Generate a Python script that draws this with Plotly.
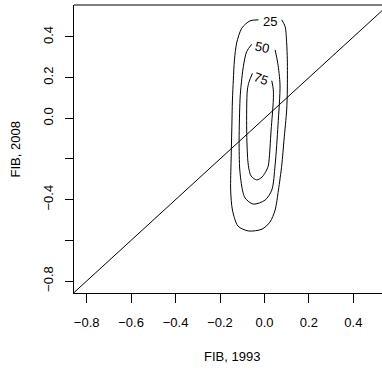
import plotly.graph_objects as go

# Density contour paths (FIB 1993 vs FIB 2008), each open where its label sits
c25_x = [0.078, 0.093, 0.100, 0.103, 0.103, 0.100, 0.088, 0.078, 0.063, 0.048, 0.025, -0.011,
         -0.072, -0.119, -0.144, -0.152, -0.150, -0.147, -0.144, -0.140, -0.135, -0.125,
         -0.102, -0.065, -0.027]
c25_y = [0.484, 0.451, 0.370, 0.287, 0.139, 0.041, -0.107, -0.230, -0.353, -0.451, -0.510, -0.545,
         -0.554, -0.530, -0.451, -0.353, -0.205, -0.058, 0.090, 0.188, 0.287, 0.370,
         0.443, 0.479, 0.484]

c50_x = [0.048, 0.060, 0.070, 0.061, 0.048, 0.033, 0.003, -0.050, -0.087, -0.099, -0.111,
         -0.114, -0.110, -0.107, -0.095, -0.080, -0.057]
c50_y = [0.336, 0.271, 0.164, -0.033, -0.230, -0.353, -0.402, -0.422, -0.392, -0.353, -0.254,
         -0.107, 0.090, 0.139, 0.254, 0.328, 0.364]

c75_x = [0.033, 0.040, 0.040, 0.030, 0.018, 0.010, -0.011, -0.035, -0.060, -0.069, -0.075,
         -0.080, -0.077, -0.069, -0.054]
c75_y = [0.185, 0.139, 0.090, -0.058, -0.230, -0.254, -0.289, -0.303, -0.284, -0.254, -0.205,
         -0.058, 0.139, 0.180, 0.221]

contour_levels = ["25", "50", "75"]
label_x = [0.025, -0.009, -0.017]
label_y = [0.475, 0.349, 0.197]
label_angle = [0, 12, 20]

x_ticks = [-0.8, -0.6, -0.4, -0.2, 0.0, 0.2, 0.4]
y_ticks = [-0.8, -0.6, -0.4, -0.2, 0.0, 0.2, 0.4]
y_ticktext = ["\u22120.8", "", "\u22120.4", "", "0.0", "0.2", "0.4"]

x_range = [-0.857, 0.529]
y_range = [-0.859, 0.557]

FONT = "Liberation Sans, Arial, Helvetica, sans-serif"

fig = go.Figure()

# y = x reference line
fig.add_trace(go.Scatter(x=[-1.0, 1.0], y=[-1.0, 1.0], mode="lines",
                         line=dict(color="black", width=1), hoverinfo="skip"))

for cx, cy in [(c25_x, c25_y), (c50_x, c50_y), (c75_x, c75_y)]:
    fig.add_trace(go.Scatter(x=cx, y=cy, mode="lines",
                             line=dict(color="black", width=1, shape="spline", smoothing=0.8),
                             hoverinfo="skip"))

for lvl, lx, ly, ang in zip(contour_levels, label_x, label_y, label_angle):
    fig.add_annotation(x=lx, y=ly, text=lvl, showarrow=False, textangle=ang,
                       font=dict(family=FONT, size=13, color="black"))

# axis titles
fig.add_annotation(xref="paper", yref="paper", x=0.513, y=-0.222, text="FIB, 1993",
                   showarrow=False, yanchor="middle",
                   font=dict(family=FONT, size=13, color="black"))
fig.add_annotation(xref="paper", yref="paper", x=-0.19, y=0.5, text="FIB, 2008",
                   showarrow=False, textangle=-90, xanchor="center",
                   font=dict(family=FONT, size=13, color="black"))

# top edge of the plotting box
fig.add_shape(type="line", xref="paper", yref="paper", x0=0, x1=1, y0=1, y1=1,
              line=dict(color="black", width=1))

fig.update_layout(
    width=382, height=371,
    margin=dict(l=74, r=0, t=5, b=78),
    paper_bgcolor="white", plot_bgcolor="white",
    showlegend=False,
    font=dict(family=FONT, size=13, color="black"),
    xaxis=dict(range=x_range, tickvals=x_ticks, tickformat=".1f",
               ticks="outside", ticklen=9, tickcolor="black", tickwidth=1,
               ticklabelstandoff=8,
               showline=True, linecolor="black", linewidth=1,
               showgrid=False, zeroline=False,
               tickfont=dict(family=FONT, size=13, color="black")),
    yaxis=dict(range=y_range, tickvals=y_ticks, ticktext=y_ticktext, tickangle=-90,
               ticks="outside", ticklen=8, tickcolor="black", tickwidth=1,
               ticklabelstandoff=7,
               showline=True, linecolor="black", linewidth=1,
               showgrid=False, zeroline=False,
               tickfont=dict(family=FONT, size=13, color="black")),
)

fig.write_html("out.html")
